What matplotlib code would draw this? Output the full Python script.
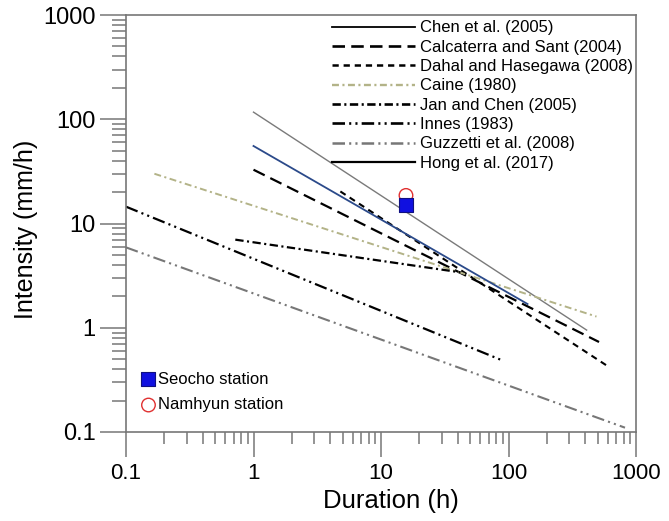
import matplotlib
matplotlib.use('Agg')
import matplotlib.pyplot as plt
from matplotlib.lines import Line2D

plt.rcParams['font.family'] = ['Liberation Sans', 'DejaVu Sans']
plt.rcParams['lines.scale_dashes'] = False

# threshold lines: end points (duration h, intensity mm/h)
labels = ['Chen et al. (2005)', 'Calcaterra and Sant (2004)', 'Dahal and Hasegawa (2008)',
          'Caine (1980)', 'Jan and Chen (2005)', 'Innes (1983)',
          'Guzzetti et al. (2008)', 'Hong et al. (2017)']
chen_d = [1, 410]
chen_i = [117, 0.95]
calcaterra_d = [1, 513]
calcaterra_i = [32.8, 0.73]
dahal_d = [4.8, 614]
dahal_i = [20.3, 0.42]
caine_d = [0.167, 490]
caine_i = [30, 1.28]
janchen_d = [0.72, 42]
janchen_i = [7.0, 3.4]
innes_d = [0.1, 88]
innes_i = [14.5, 0.49]
guzzetti_d = [0.1, 820]
guzzetti_i = [5.9, 0.11]
hong_d = [1, 141]
hong_i = [55.4, 1.69]

stations = ['Seocho station', 'Namhyun station']
station_d = [15.7, 15.7]
station_i = [15.1, 18.6]

series = [(chen_d, chen_i), (calcaterra_d, calcaterra_i), (dahal_d, dahal_i),
          (caine_d, caine_i), (janchen_d, janchen_i), (innes_d, innes_i),
          (guzzetti_d, guzzetti_i), (hong_d, hong_i)]

# (plot color, legend color, linewidth, linestyle)
styles = [
    ('#7a7a7a', 'black', 1.0, '-'),
    ('black', 'black', 1.6, (0, (9, 4.5))),
    ('black', 'black', 1.5, (0, (4.5, 3.5))),
    ('#b3b388', '#b3b388', 1.4, (0, (5, 2.5, 1.5, 2.5))),
    ('black', 'black', 1.6, (0, (6, 2.5, 1.5, 2.5))),
    ('black', 'black', 1.6, (0, (9, 3, 1.5, 3, 1.5, 3))),
    ('#777777', '#777777', 1.5, (0, (9, 3, 1.5, 3, 1.5, 3))),
    ('#2b4a8a', 'black', 1.3, '-'),
]

fig = plt.figure(figsize=(6.69, 5.21), dpi=100)
ax = fig.add_axes([126/669, 89/521, 510/669, 417/521])

handles = []
for (d, i), (c, lc, lw, ls), lab in zip(series, styles, labels):
    ax.plot(d, i, color=c, lw=lw, ls=ls)
    handles.append(Line2D([], [], color=lc, lw=lw + 0.3, ls=ls))

sq = ax.scatter(station_d[0], station_i[0], marker='s', s=100, color='#1010e0',
                edgecolor='#101080', linewidth=0.8, zorder=5)
ci = ax.scatter(station_d[1], station_i[1], marker='o', s=95, facecolor='none',
                edgecolor='#e03030', linewidth=1.0, zorder=4)

ax.set_xscale('log')
ax.set_yscale('log')
ax.set_xlim(0.1, 1000)
ax.set_ylim(0.1, 1000)
ax.set_xticks([0.1, 1, 10, 100, 1000])
ax.set_xticklabels(['0.1', '1', '10', '100', '1000'])
ax.set_yticks([0.1, 1, 10, 100, 1000])
ax.set_yticklabels(['0.1', '1', '10', '100', '1000'])

axcol = '#777777'
for s in ax.spines.values():
    s.set_color(axcol)
    s.set_linewidth(1.2)
ax.tick_params(axis='x', which='major', direction='out', length=18, width=1.1,
               color=axcol, pad=4.5, labelsize=16)
ax.tick_params(axis='x', which='minor', direction='out', length=8.5, width=1.1,
               color=axcol, labelbottom=False)
ax.tick_params(axis='y', which='major', direction='out', length=19, width=1.1,
               color=axcol, pad=3, labelsize=17)
ax.tick_params(axis='y', which='minor', direction='out', length=10, width=1.1,
               color=axcol, labelleft=False)

ax.set_xlabel('Duration (h)', fontsize=18.5)
ax.set_ylabel('Intensity (mm/h)', fontsize=18)
ax.xaxis.set_label_coords(0.52, -0.137)
ax.yaxis.set_label_coords(-0.172, 0.486)

leg = ax.legend(handles, labels, loc='upper left', bbox_to_anchor=(0.404, 0.987),
                frameon=False, fontsize=12, handlelength=5.0, handletextpad=0.3,
                labelspacing=0.26, borderpad=0, borderaxespad=0)
ax.add_artist(leg)

ax.legend([sq, ci], stations, loc='lower left', bbox_to_anchor=(0.031, 0.047),
          frameon=False, fontsize=12, handlelength=0.8, handletextpad=0.15,
          labelspacing=0.65, borderpad=0, borderaxespad=0, scatterpoints=1)

fig.savefig('out.png', dpi=100)
